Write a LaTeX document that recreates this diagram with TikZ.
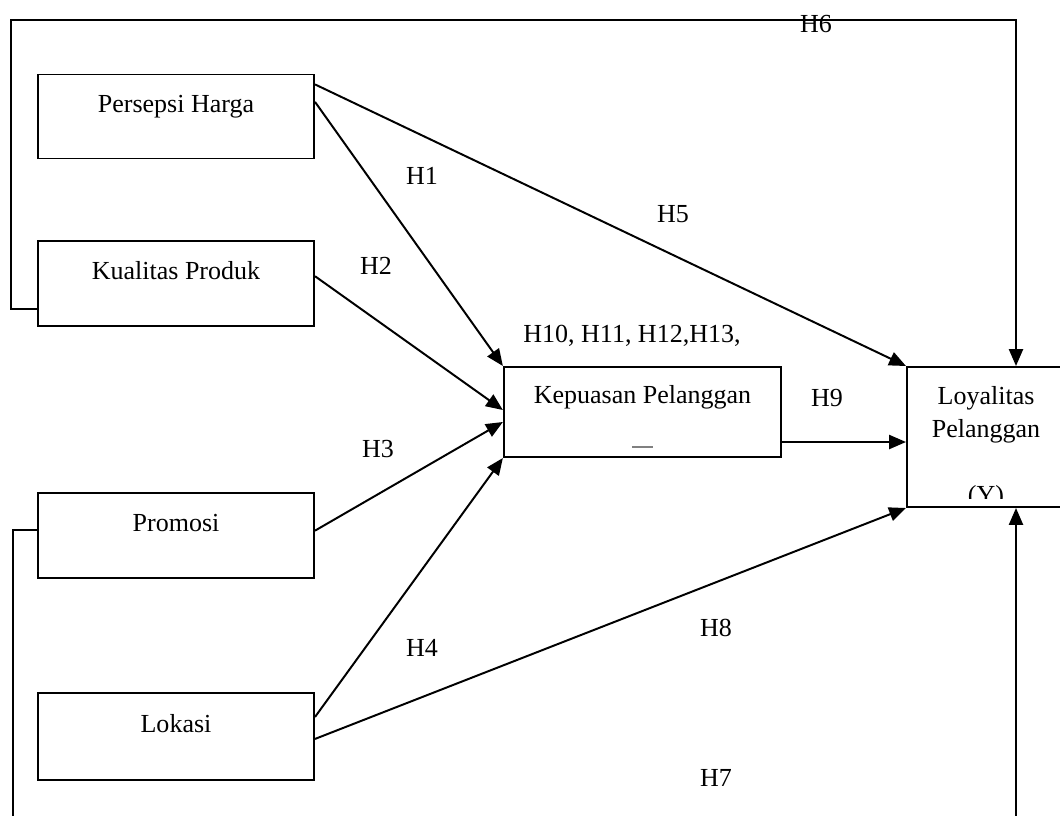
\documentclass[tikz,border=0pt]{standalone}
\usepackage{fontspec}
\setmainfont{Liberation Serif}
\usetikzlibrary{arrows.meta,positioning,calc}

\begin{document}
\begin{tikzpicture}[x=0.025cm, y=-0.025cm, line width=1.4pt,
    font=\fontsize{18.5}{23.5}\selectfont,
    varbox/.style={draw, rectangle, inner sep=0pt, text height=12.8pt, text depth=19.2pt},
    lbl/.style={inner sep=0pt, text height=12.8pt, text depth=0pt},
    link/.style={-{Triangle[length=12pt,width=10pt]}}]
    \path[use as bounding box, clip] (0,0) rectangle (1060,816);

    \node[varbox, minimum width=6.9cm, minimum height=2.1cm] (persepsi) at (176,116.5) {Persepsi Harga};
    \node[varbox, minimum width=6.9cm, minimum height=2.12cm] (kualitas) at (176,283.5) {Kualitas Produk};
    \node[varbox, minimum width=6.9cm, minimum height=2.12cm] (promosi) at (176,535.5) {Promosi};
    \node[varbox, minimum width=6.9cm, minimum height=2.17cm] (lokasi) at (176,736.5) {Lokasi};
    \node[varbox, text depth=24.2pt, minimum width=6.93cm, minimum height=2.25cm] (kepuasan) at (642.5,412) {Kepuasan Pelanggan};
    \node[varbox, minimum width=3.95cm, minimum height=3.5cm] (loyal) at (986,437) {};

    \node[lbl] (loyal1) at (986,395) {Loyalitas};
    \node[lbl] (loyal2) at (986,428) {Pelanggan};
    \begin{scope}
      \clip (907,367) rectangle (1065,498);
      \node[lbl, anchor=base] (loyal3) at (986,503) {(Y)};
    \end{scope}
    \draw[gray, line width=0.8pt] (632,447) -- (653,447);

    \draw[link] (persepsi.13) -- (loyal.north west);
    \draw[link] (persepsi.6) -- (kepuasan.north west);
    \draw[link] (kualitas.3) -- ([yshift=0.05cm]kepuasan.west);
    \draw[link] (promosi.2) -- ([yshift=-0.25cm]kepuasan.west);
    \draw[link] (lokasi.8) -- (kepuasan.south west);
    \draw[link] (lokasi.-1) -- (loyal.south west);

    \coordinate (k9) at ([yshift=-0.75cm]kepuasan.east);
    \draw[link] (k9) -- (k9 -| loyal.west);

    \coordinate (tl) at (11,20);
    \coordinate (tr) at (1016,20);
    \draw[link] ([yshift=-0.64cm]kualitas.west) -| (tl) -- (tr) -- (tr |- loyal.north);

    \coordinate (bl) at (13,840);
    \coordinate (br) at (1016,840);
    \draw[link] ([yshift=0.14cm]promosi.west) -| (bl) -- (br) -- (br |- loyal.south);

    \node[lbl] (h1) at (422,175) {H1};
    \node[lbl] (h2) at (376,265) {H2};
    \node[lbl] (h3) at (378,448) {H3};
    \node[lbl] (h4) at (422,647) {H4};
    \node[lbl] (h5) at (673,213) {H5};
    \node[lbl] (h6) at (816,23) {H6};
    \node[lbl] (h7) at (716,777) {H7};
    \node[lbl] (h8) at (716,627) {H8};
    \node[lbl] (h9) at (827,397) {H9};
    \node[lbl] (h10) at (632,333) {H10, H11, H12,H13,};
  \end{tikzpicture}
\end{document}
